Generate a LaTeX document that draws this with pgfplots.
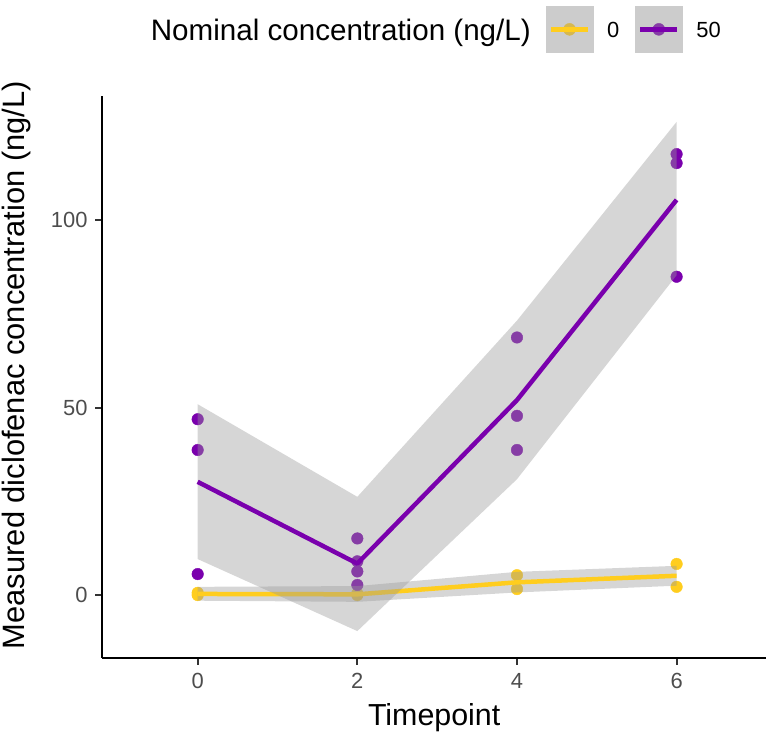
\documentclass[border=0pt]{standalone}
\usepackage{fontspec}
\setmainfont{Liberation Sans}
\usepackage{pgfplots}
\pgfplotsset{compat=1.18}
\definecolor{yel}{RGB}{255,205,30}
\definecolor{pur}{RGB}{122,0,173}
\definecolor{yelm}{RGB}{214,184,79}
\definecolor{purm}{RGB}{134,61,165}
\definecolor{keyg}{RGB}{204,204,204}
\definecolor{tickc}{RGB}{51,51,51}
\definecolor{labc}{RGB}{77,77,77}
\definecolor{ribg}{RGB}{153,153,153}
\pgfplotstableread{
x y
0 0
0 0.6
2 0
2 0.4
4 1.6
4 5.3
6 8.3
6 2.2
}\ptszero
\pgfplotstableread{
x y
0 46.9
0 38.7
0 5.6
2 15.1
2 9.0
2 6.3
2 2.7
4 68.7
4 47.8
4 38.7
6 117.6
6 115.2
6 84.9
}\ptsfifty
\begin{document}
\begin{tikzpicture}
\useasboundingbox (0,0) rectangle (766bp,737bp);
\begin{axis}[
  scale only axis, width=663.7bp, height=561.7bp,
  at={(102.3bp,79.3bp)}, anchor=south west,
  xmin=-1.195, xmax=7.12, ymin=-16.7, ymax=133.1,
  clip marker paths=true,
  axis x line*=bottom, axis y line*=left,
  axis line style={line width=2bp, black, -},
  xtick={0,2,4,6}, ytick={0,50,100},
  tick align=outside, major tick length=7bp,
  tick style={line width=2bp, tickc},
  ticklabel style={font=\fontsize{22}{26}\selectfont, text=labc, inner sep=0pt},
  xticklabel style={anchor=north, yshift=-8.6bp},
  yticklabel style={anchor=east, xshift=-7.6bp},
  /pgf/number format/assume math mode=true,
  legend columns=-1,
  legend style={at={(axis description cs:0.6685,1.1602)}, anchor=north west,
    draw=none, fill=none, inner sep=0pt, outer sep=0pt,
    font=\fontsize{22}{26}\selectfont,
    nodes={inner sep=0pt},
    /tikz/every odd column/.append style={column sep=14bp},
    /tikz/every even column/.append style={column sep=16bp}},
]
% points
\addplot[only marks, mark=*, mark size=5.8bp, color=yel, forget plot] table[x=x,y=y] {\ptszero};
\addplot[only marks, mark=*, mark size=5.8bp, color=pur, forget plot] table[x=x,y=y] {\ptsfifty};
% ribbon + line, group 0
\addplot[draw=none, fill=ribg, fill opacity=0.4, forget plot] coordinates {(0,2.2)(2,2.4)(4,6.2)(6,7.8)(6,2.5)(4,0.7)(2,-1.8)(0,-1.5)} -- cycle;
\addplot[yel, line width=4.5bp, line join=round, forget plot] coordinates {(0,0.3)(2,0.2)(4,3.4)(6,5.15)};
% ribbon + line, group 50
\addplot[draw=none, fill=ribg, fill opacity=0.4, forget plot] coordinates {(0,50.9)(2,26.2)(4,73.2)(6,126.2)(6,85.3)(4,30.9)(2,-9.6)(0,9.6)} -- cycle;
\addplot[pur, line width=4.5bp, line join=round, forget plot] coordinates {(0,30.2)(2,8.4)(4,52.0)(6,105.4)};
% legend
\addlegendimage{legend image code/.code={
  \fill[keyg] (0bp,-21.95bp) rectangle (46.7bp,24.35bp);
  \fill[yelm] (23.35bp,1.2bp) circle (6bp);
  \draw[yel, line width=5bp] (5bp,1.2bp) -- (41.7bp,1.2bp);}}
\addlegendentry{0}
\addlegendimage{legend image code/.code={
  \fill[keyg] (0bp,-21.95bp) rectangle (46.7bp,24.35bp);
  \fill[purm] (23.35bp,1.2bp) circle (6bp);
  \draw[pur, line width=5bp] (5bp,1.2bp) -- (41.7bp,1.2bp);}}
\addlegendentry{50}
\end{axis}
\node[anchor=base east, font=\fontsize{29.7}{36}\selectfont, inner sep=0pt] at (531bp,696bp) {Nominal concentration (ng/L)};
\node[anchor=base, font=\fontsize{30.5}{36}\selectfont, inner sep=0pt] at (434.15bp,11.3bp) {Timepoint};
\node[anchor=base, rotate=90, font=\fontsize{31}{36}\selectfont, inner sep=0pt] at (24bp,372bp) {Measured diclofenac concentration (ng/L)};
\end{tikzpicture}
\end{document}
